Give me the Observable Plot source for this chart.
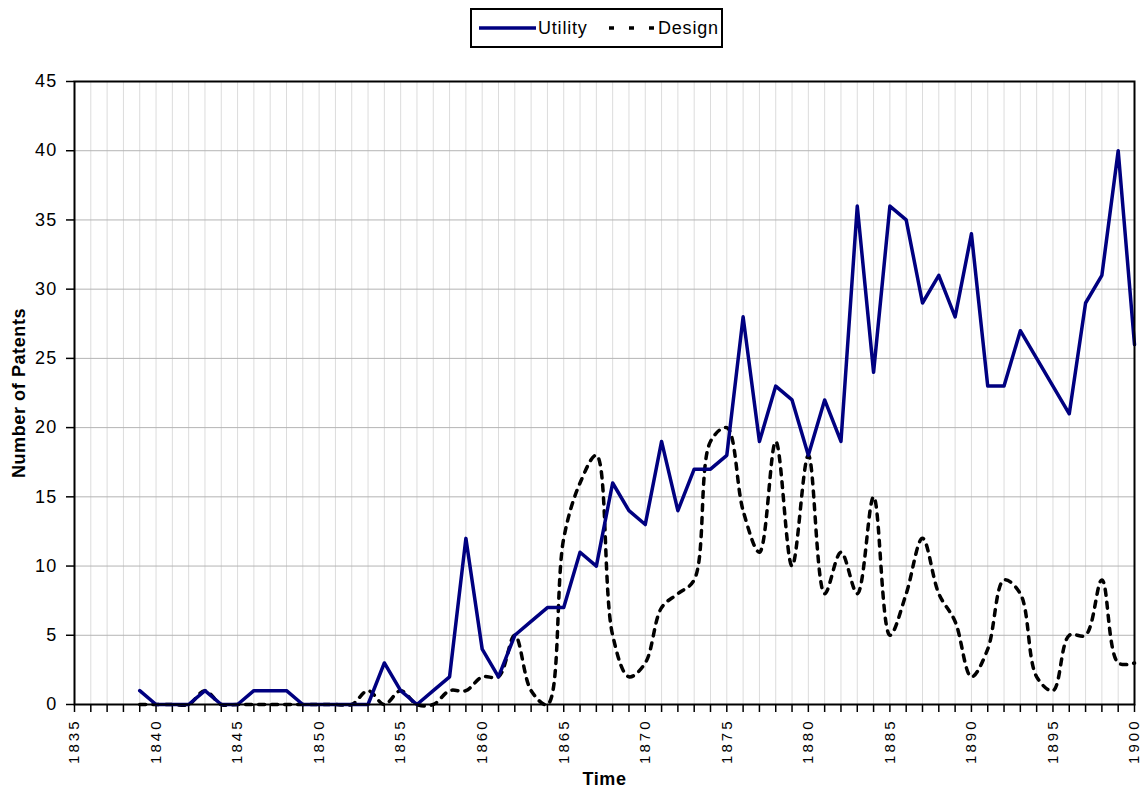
<!DOCTYPE html>
<html>
<head>
<meta charset="utf-8">
<script src="https://cdn.jsdelivr.net/npm/d3@7"></script>
<script src="https://cdn.jsdelivr.net/npm/@observablehq/plot@0.6"></script>
<style>
  html, body { margin: 0; padding: 0; background: #fff; }
  #wrap { position: relative; width: 1141px; height: 790px; font-family: "Liberation Sans", Arial, sans-serif; }
  #legend { position: absolute; left: 470px; top: 8px; width: 249px; height: 36px; border: 2px solid #000; background: #fff; }
  #legend svg { position: absolute; left: 0; top: 0; }
  g[aria-label="y-axis label"] text, g[aria-label="x-axis label"] text { font-weight: bold; font-size: 18px; letter-spacing: 0.6px; }
  g[aria-label="y-axis tick label"] text { font-size: 18px; letter-spacing: 1.2px; }
  g[aria-label="x-axis tick label"] text { font-size: 15px; letter-spacing: 3px; }
</style>
</head>
<body>
<div id="wrap">
  <div id="chart"></div>
  <div id="legend"></div>
</div>
<script>
const years = d3.range(1839, 1901);
const utility = [1,0,0,0,1,0,0,1,1,1, 0,0,0,0,0,3,1,0,1,2, 12,4,2,5,6,7,7,11,10,16, 14,13,19,14,17,17,18,28,19,23, 22,18,22,19,36,24,36,35,29,31, 28,34,23,23,27,25,23,21,29,31, 40,26];
const design  = [0,0,0,0,1,0,0,0,0,0, 0,0,0,0,1,0,1,0,0,1, 1,2,2,5,1,0,12,16,18,5, 2,3,7,8,9,19,20,14,11,19, 10,18,8,11,8,15,5,8,12,8, 6,2,4,9,8,2,1,5,5,9, 3,3];
const seriesNames = ["Utility", "Design"];
const xLabelTicks = d3.range(1835, 1901, 5);
const xYearTicks = d3.range(1835, 1901, 1);
const yTicks = d3.range(0, 46, 5);

const utilRows = years.map((y, i) => ({year: y, value: utility[i]}));
const designRows = years.map((y, i) => ({year: y, value: design[i]}));

const chart = Plot.plot({
  width: 1141,
  height: 790,
  marginLeft: 74,
  marginRight: 7,
  marginTop: 81,
  marginBottom: 86,
  style: {fontFamily: "Liberation Sans, Arial, sans-serif", fontSize: "17px", background: "white", color: "black"},
  x: {domain: [1835, 1900]},
  y: {domain: [0, 45]},
  marks: [
    Plot.ruleX(xYearTicks, {stroke: "#dcdcdc", strokeWidth: 1}),
    Plot.ruleY(yTicks, {stroke: "#b4b4b4", strokeWidth: 1}),
    Plot.axisY({ticks: yTicks, tickSize: 8, tickPadding: 9, tickFormat: d => String(d), stroke: "black", strokeWidth: 1.5,
      label: "Number of Patents", labelAnchor: "center", labelArrow: "none", labelOffset: 62}),
    Plot.axisX({ticks: xYearTicks, tickSize: 8, tickFormat: () => "", stroke: "black", strokeWidth: 1.5, label: null}),
    Plot.axisX({ticks: xLabelTicks, tickSize: 0, tickPadding: 14, tickRotate: -90, tickFormat: d => String(d),
      label: "Time", labelAnchor: "center", labelArrow: "none", labelOffset: 80}),
    Plot.line(designRows, {x: "year", y: "value", stroke: "black", strokeWidth: 3.5, strokeDasharray: "6,7", curve: "catmull-rom"}),
    Plot.line(utilRows, {x: "year", y: "value", stroke: "#000080", strokeWidth: 3.5}),
    Plot.frame({stroke: "black", strokeWidth: 2})
  ]
});
document.getElementById("chart").appendChild(chart);

// legend
const lg = d3.select("#legend").append("svg").attr("width", 249).attr("height", 36);
lg.append("line").attr("x1", 7).attr("x2", 64).attr("y1", 18).attr("y2", 18).attr("stroke", "#000080").attr("stroke-width", 3.5);
lg.append("text").attr("x", 66).attr("y", 24).attr("font-size", 18).attr("letter-spacing", 0.8).attr("font-family", "Liberation Sans, Arial, sans-serif").text(seriesNames[0]);
lg.append("line").attr("x1", 137).attr("x2", 182).attr("y1", 18).attr("y2", 18).attr("stroke", "black").attr("stroke-width", 3.5).attr("stroke-dasharray", "5,15");
lg.append("text").attr("x", 186).attr("y", 24).attr("font-size", 18).attr("letter-spacing", 0.8).attr("font-family", "Liberation Sans, Arial, sans-serif").text(seriesNames[1]);
</script>
</body>
</html>
